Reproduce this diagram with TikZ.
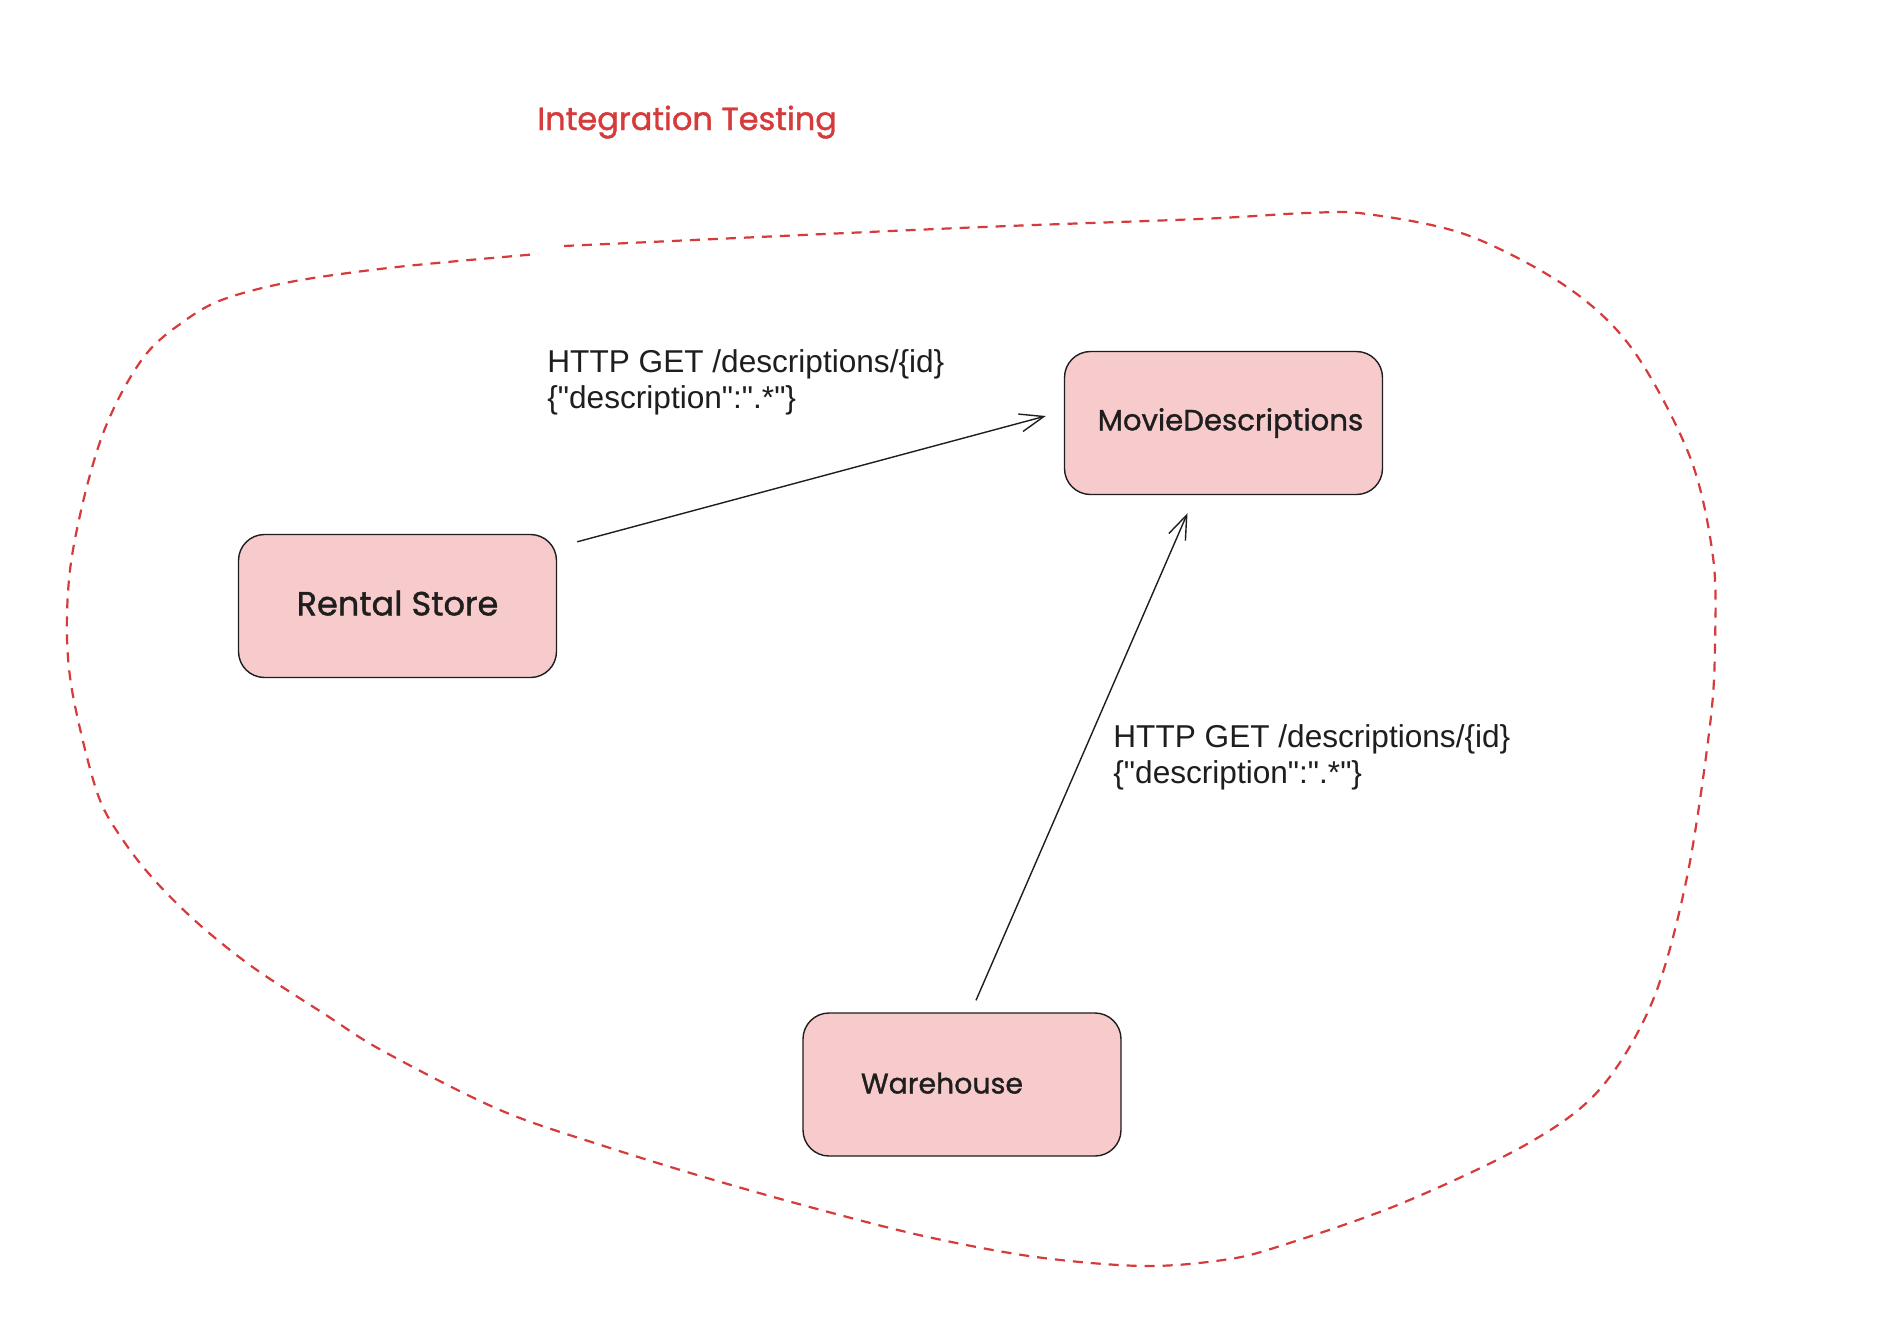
\documentclass[tikz,border=0pt]{standalone}
\usepackage{fontspec}
\setmainfont{Liberation Sans}[Ligatures=TeXOff]
\newfontfamily\handfont{Poppins}[FakeBold=1.2]
\usetikzlibrary{arrows.meta}
\definecolor{boxfill}{RGB}{247,203,203}
\definecolor{ink}{RGB}{30,30,30}
\definecolor{zone}{RGB}{214,58,58}
\tikzset{
  boxnode/.style={draw=ink, line width=0.7pt, fill=boxfill, rounded corners=13pt,
    minimum width=159pt, minimum height=71.5pt, inner sep=0pt, text=ink},
  conn/.style={draw=ink, line width=0.7pt, -{Straight Barb[length=12pt,width=9pt]}},
  httplabel/.style={anchor=north west, inner sep=0pt, align=left, text=ink,
    font=\fontsize{15.8}{18}\selectfont},
  zoneline/.style={draw=zone, line width=1.1pt, dash pattern=on 5pt off 4pt}
}
\begin{document}
\begin{tikzpicture}[x=0.5pt, y=-0.5pt]
\fill[white] (0,0) rectangle (1880,1324);
\useasboundingbox (0,0) rectangle (1880,1324);

% title
\node[anchor=base west, inner sep=0pt, text=zone, font=\handfont\fontsize{16}{18}\selectfont] (title) at (537,130) {Integration Testing};

% dashed zone
\draw[zoneline] plot[smooth, tension=0.55] coordinates {
 (564,246) (959,228) (1199,219) (1307,213) (1367,214) (1467,235) (1567,287)
 (1633,350) (1690,457) (1713,557) (1715,644) (1710,725) (1687,877) (1653,1000)
 (1600,1089) (1527,1144) (1400,1204) (1277,1247) (1223,1260) (1143,1266)
 (1036,1257) (928,1237) (821,1210) (714,1180) (607,1147) (500,1110) (383,1051)
 (326,1015) (254,968) (201,926) (158,884) (125,843) (98,795) (74,701) (67,638)
 (70,570) (83,502) (101,439) (122,392) (147,353) (176,327) (219,301) (290,282)
 (397,267) (538,254)};

% boxes
\node[boxnode, font=\handfont\fontsize{16.8}{18}\selectfont] (rs) at (397.5,606) {\raisebox{3pt}{Rental Store}};
\node[boxnode, font=\handfont\fontsize{14.6}{18}\selectfont] (md) at (1223.5,423) {\hspace*{7pt}MovieDescriptions};
\node[boxnode, font=\handfont\fontsize{14.2}{18}\selectfont] (wh) at (962,1084.5) {\hspace*{-20pt}\raisebox{1.5pt}{Warehouse}};

% connectors
\draw[conn] ([xshift=10pt,yshift=-4pt]rs.north east) -- ([xshift=-9pt,yshift=3.5pt]md.west);
\draw[conn] ([xshift=7pt,yshift=6pt]wh.north) -- ([xshift=-18pt,yshift=-9pt]md.south);

% labels
\node[httplabel] (l1) at (547,349) {HTTP GET /descriptions/\{id\}\\\{"description":".*"\}};
\node[httplabel] (l2) at (1113,724) {HTTP GET /descriptions/\{id\}\\\{"description":".*"\}};
\end{tikzpicture}
\end{document}
